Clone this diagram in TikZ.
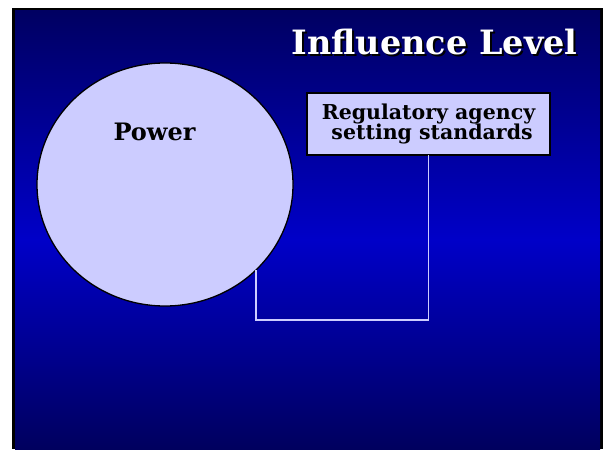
\documentclass[tikz,border=0pt]{standalone}
\usepackage{fontspec}
\setmainfont{DejaVu Serif}
\usetikzlibrary{shapes.geometric}
\definecolor{lav}{HTML}{CCCCFF}
\definecolor{navytop}{HTML}{000062}
\definecolor{bluemid}{HTML}{0000C8}
\definecolor{navybot}{HTML}{00005E}
\tikzset{
  bubble/.style={ellipse, draw=black, line width=1.3pt, fill=lav, inner sep=0pt, outer sep=0pt},
  labelbox/.style={rectangle, draw=black, line width=1.3pt, fill=lav, inner sep=0pt, outer sep=0pt, align=center, font=\bfseries},
  link/.style={draw=lav, line width=1.4pt},
  boldtext/.style={font=\bfseries}
}
\begin{document}
\begin{tikzpicture}[x=1pt,y=-1pt]
\useasboundingbox (0,0) rectangle (604,449);
\fill[white] (0,0) rectangle (604,449);
\fill[black] (12,8) rectangle (603,449);
\shade[top color=navytop, bottom color=bluemid] (15,11) rectangle (600,240);
\shade[top color=bluemid, bottom color=navybot] (15,239.5) rectangle (600,449);
% title with shadow
\node[boldtext, text=black, anchor=base] (titleshadow) at (436.5,57) {\fontsize{33.5}{38}\selectfont Influence Level};
\node[boldtext, text=white, anchor=base] (title) at (434.5,55) {\fontsize{33.5}{38}\selectfont Influence Level};
% power circle
\node[bubble, minimum width=256pt, minimum height=243pt] (power) at (165,184.5) {};
\node[boldtext, anchor=base] (powertxt) at (154.5,141) {\fontsize{24}{28}\selectfont Power};
% regulatory box
\node[labelbox, minimum width=243pt, minimum height=62pt] (reg) at (428.5,124)
  {\fontsize{20.5}{25}\selectfont Regulatory agency\\[-1pt] \fontsize{20.5}{25}\selectfont\ setting standards};
% connector
\coordinate (c1) at (256,320);
\draw[link] (reg.south) |- (c1) -- (c1 |- power.-43.2);
\end{tikzpicture}
\end{document}
